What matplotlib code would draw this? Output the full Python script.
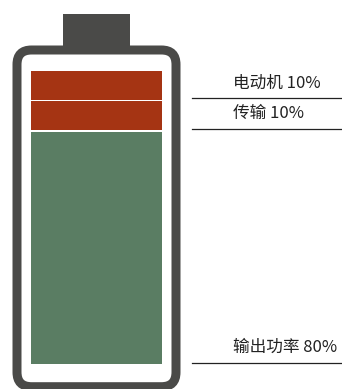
import matplotlib.pyplot as plt
from matplotlib.patches import FancyBboxPatch, Rectangle

plt.rcParams['font.family'] = ['Noto Sans CJK SC', 'DejaVu Sans']

# 数据 (自下而上)
names = ['输出功率', '传输', '电动机']
values = [80, 10, 10]
colors = ['#5a7d63', '#a53413', '#a53413']

W, H = 342, 389
fig = plt.figure(figsize=(W / 100, H / 100), dpi=100)
ax = fig.add_axes([0, 0, 1, 1])
ax.set_xlim(0, W)
ax.set_ylim(H, 0)
ax.axis('off')

# 电池外形
dark = '#4a4a48'
ax.add_patch(Rectangle((63, 14), 67, 36, facecolor=dark, edgecolor='none'))
lw_px = 9
r = 14.5
x0, x1, y0, y1 = 17, 176, 50, 386.7
ax.add_patch(FancyBboxPatch((x0 + r, y0 + r), x1 - x0 - 2 * r, y1 - y0 - 2 * r,
                            boxstyle=f'round,pad={r}', facecolor='white',
                            edgecolor=dark, linewidth=lw_px * 72 / 100))

# 堆叠条
bottom = 364.0
scale = 2.905
gap = 1.3
bx0, bx1 = 31, 162
for name, v, c in zip(names, values, colors):
    h = v * scale
    ax.bar((bx0 + bx1) / 2, -h, bottom=bottom, width=bx1 - bx0,
           color=c, edgecolor='none')
    ly = bottom - 1.5
    ax.plot([192, 342], [ly, ly], color='#222222', lw=0.9)
    ax.text(233, ly - 7, f'{name} {v}%', ha='left', va='bottom',
            fontsize=12, color='#222222')
    bottom = bottom - h - gap

fig.savefig('out.png', dpi=100)
